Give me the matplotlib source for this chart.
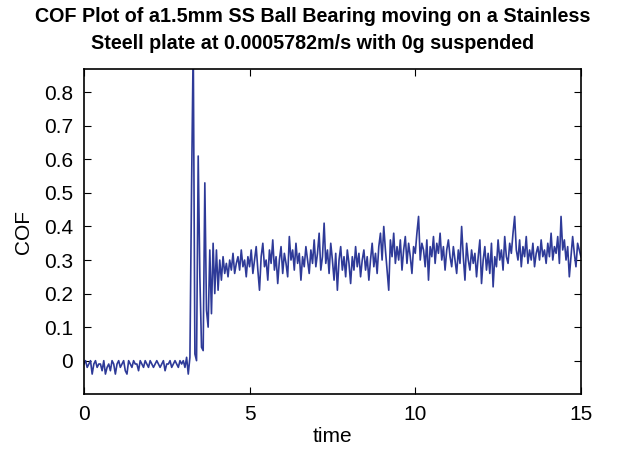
import numpy as np
import matplotlib.pyplot as plt

plt.rcParams['font.family'] = ['Liberation Sans', 'DejaVu Sans']

dt = 0.05  # sample interval (s)

# COF readings, one row per second of the test
cof_0 = [-0.01, 0.00, -0.02, -0.01, 0.00, -0.04, -0.01, 0.00, -0.02, -0.01,
         -0.01, -0.03, 0.00, -0.04, -0.02, -0.01, -0.03, 0.00, -0.01, -0.04]
cof_1 = [-0.01, 0.00, -0.02, -0.01, 0.00, -0.03, -0.04, 0.00, -0.01, -0.02,
         0.00, -0.01, -0.01, -0.03, 0.00, -0.01, -0.02, 0.00, -0.01, -0.02]
cof_2 = [0.00, -0.01, -0.02, -0.01, 0.00, -0.01, -0.02, -0.01, 0.00, -0.03,
         -0.01, -0.01, 0.00, -0.02, -0.01, 0.00, -0.01, -0.02, 0.00, -0.01]
cof_3 = [0.00, -0.02, 0.01, -0.04, 0.01, 0.52, 0.95, 0.02, 0.00, 0.61,
         0.25, 0.04, 0.03, 0.53, 0.15, 0.10, 0.33, 0.14, 0.35, 0.20]
cof_4 = [0.33, 0.21, 0.30, 0.24, 0.31, 0.26, 0.29, 0.25, 0.30, 0.27,
         0.32, 0.26, 0.29, 0.31, 0.27, 0.33, 0.28, 0.30, 0.25, 0.31]
cof_5 = [0.28, 0.33, 0.26, 0.30, 0.34, 0.27, 0.21, 0.31, 0.35, 0.28,
         0.30, 0.24, 0.33, 0.29, 0.36, 0.27, 0.31, 0.23, 0.30, 0.34]
cof_6 = [0.26, 0.32, 0.29, 0.25, 0.37, 0.30, 0.33, 0.27, 0.35, 0.29,
         0.32, 0.24, 0.31, 0.28, 0.34, 0.30, 0.26, 0.33, 0.29, 0.36]
cof_7 = [0.28, 0.32, 0.38, 0.27, 0.31, 0.41, 0.29, 0.33, 0.26, 0.35,
         0.30, 0.24, 0.32, 0.21, 0.30, 0.34, 0.27, 0.31, 0.25, 0.33]
cof_8 = [0.29, 0.23, 0.31, 0.27, 0.34, 0.28, 0.32, 0.25, 0.30, 0.33,
         0.27, 0.31, 0.24, 0.30, 0.35, 0.28, 0.32, 0.26, 0.34, 0.38]
cof_9 = [0.30, 0.40, 0.33, 0.27, 0.21, 0.36, 0.31, 0.38, 0.29, 0.34,
         0.30, 0.36, 0.27, 0.33, 0.37, 0.29, 0.35, 0.31, 0.26, 0.34]
cof_10 = [0.32, 0.38, 0.43, 0.30, 0.35, 0.33, 0.28, 0.36, 0.24, 0.34,
          0.31, 0.37, 0.29, 0.35, 0.32, 0.38, 0.30, 0.34, 0.27, 0.33]
cof_11 = [0.36, 0.31, 0.28, 0.34, 0.30, 0.26, 0.33, 0.29, 0.40, 0.31,
          0.24, 0.35, 0.30, 0.27, 0.33, 0.29, 0.32, 0.25, 0.31, 0.36]
cof_12 = [0.23, 0.30, 0.34, 0.27, 0.32, 0.26, 0.35, 0.22, 0.31, 0.28,
          0.36, 0.30, 0.33, 0.27, 0.37, 0.31, 0.29, 0.35, 0.32, 0.38]
cof_13 = [0.43, 0.33, 0.30, 0.36, 0.28, 0.34, 0.31, 0.37, 0.29, 0.33,
          0.30, 0.35, 0.28, 0.32, 0.34, 0.30, 0.36, 0.31, 0.33, 0.29]
cof_14 = [0.35, 0.31, 0.38, 0.30, 0.34, 0.32, 0.37, 0.29, 0.43, 0.33,
          0.36, 0.30, 0.34, 0.25, 0.31, 0.37, 0.32, 0.28, 0.35, 0.33]
cof_15 = [0.31]

cof = np.array(cof_0 + cof_1 + cof_2 + cof_3 + cof_4 + cof_5 + cof_6 + cof_7
               + cof_8 + cof_9 + cof_10 + cof_11 + cof_12 + cof_13 + cof_14
               + cof_15)
time = np.arange(len(cof)) * dt

fig = plt.figure(figsize=(6.26, 4.5), dpi=100)
ax = fig.add_axes([0.134, 0.124, 0.794, 0.723])
ax.plot(time, cof, color='#2e3a98', lw=1.2)

ax.set_xlim(0, 15)
ax.set_ylim(-0.1, 0.87)
ax.set_xticks([0, 5, 10, 15])
ax.set_yticks(np.arange(0, 0.81, 0.1))
ax.set_yticklabels(['0', '0.1', '0.2', '0.3', '0.4', '0.5', '0.6', '0.7', '0.8'])
ax.tick_params(direction='in', top=True, right=True, length=5, labelsize=15, pad=8)
for s in ax.spines.values():
    s.set_linewidth(1.2)

ax.set_xlabel('time', fontsize=15, labelpad=2)
ax.set_ylabel('COF', fontsize=15, labelpad=8)
fig.text(0.5, 1 - 30 / 450,
         'COF Plot of a1.5mm SS Ball Bearing moving on a Stainless\n'
         'Steell plate at 0.0005782m/s with 0g suspended',
         ha='center', va='center', fontsize=14.2, fontweight='bold',
         linespacing=1.5)

fig.savefig('out.png', dpi=100)
